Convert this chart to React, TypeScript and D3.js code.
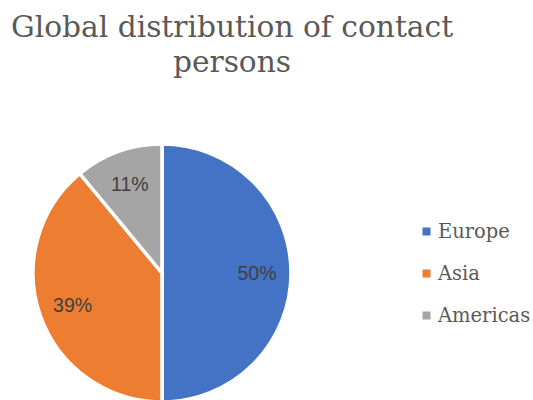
import React from 'react';
import * as d3 from 'd3';

// chart data
const regions = ['Europe', 'Asia', 'Americas'];
const shares = [50, 39, 11];
const colors = ['#4472C4', '#ED7D31', '#A5A5A5'];
const titleLines = ['Global distribution of contact', 'persons'];

const WIDTH = 533;
const HEIGHT = 400;
const CX = 162;
const CY = 273;
const R = 129;

const App = () => {
  const pie = d3.pie<number>().sort(null).value((d) => d);
  const arcs = pie(shares);

  const arcGen = d3.arc<d3.PieArcDatum<number>>().innerRadius(0).outerRadius(R);
  const labelArc = d3.arc<d3.PieArcDatum<number>>().innerRadius(95).outerRadius(95);

  // legend rows
  const legendY = d3.scalePoint<string>().domain(regions).range([238, 322]);

  return (
    <svg
      width={WIDTH}
      height={HEIGHT}
      style={{ position: 'absolute', left: 0, top: 0, background: '#fff' }}
    >
      {/* title */}
      {titleLines.map((line, i) => (
        <text
          key={line}
          x={232}
          y={37 + i * 35}
          textAnchor="middle"
          fontFamily="DejaVu Serif"
          fontSize={29.7}
          fill="#595959"
        >
          {line}
        </text>
      ))}

      {/* pie */}
      <g transform={`translate(${CX},${CY})`}>
        {arcs.map((a, i) => (
          <path
            key={regions[i]}
            d={arcGen(a) || ''}
            fill={colors[i]}
            stroke="#fff"
            strokeWidth={3.5}
            strokeLinejoin="miter"
          />
        ))}
        {arcs.map((a, i) => {
          const [lx, ly] = labelArc.centroid(a);
          return (
            <text
              key={'l' + regions[i]}
              x={lx}
              y={ly}
              dy="0.36em"
              textAnchor="middle"
              fontFamily="Liberation Sans"
              fontSize={19.5}
              fill="#404040"
            >
              {`${shares[i]}%`}
            </text>
          );
        })}
      </g>

      {/* legend */}
      {regions.map((name, i) => {
        const y = legendY(name) ?? 0;
        return (
          <g key={'lg' + name}>
            <rect x={422.5} y={y - 10.5} width={8} height={8} fill={colors[i]} />
            <text x={438} y={y} fontFamily="DejaVu Serif" fontSize={19.5} fill="#595959">
              {name}
            </text>
          </g>
        );
      })}
    </svg>
  );
};

export default App;
